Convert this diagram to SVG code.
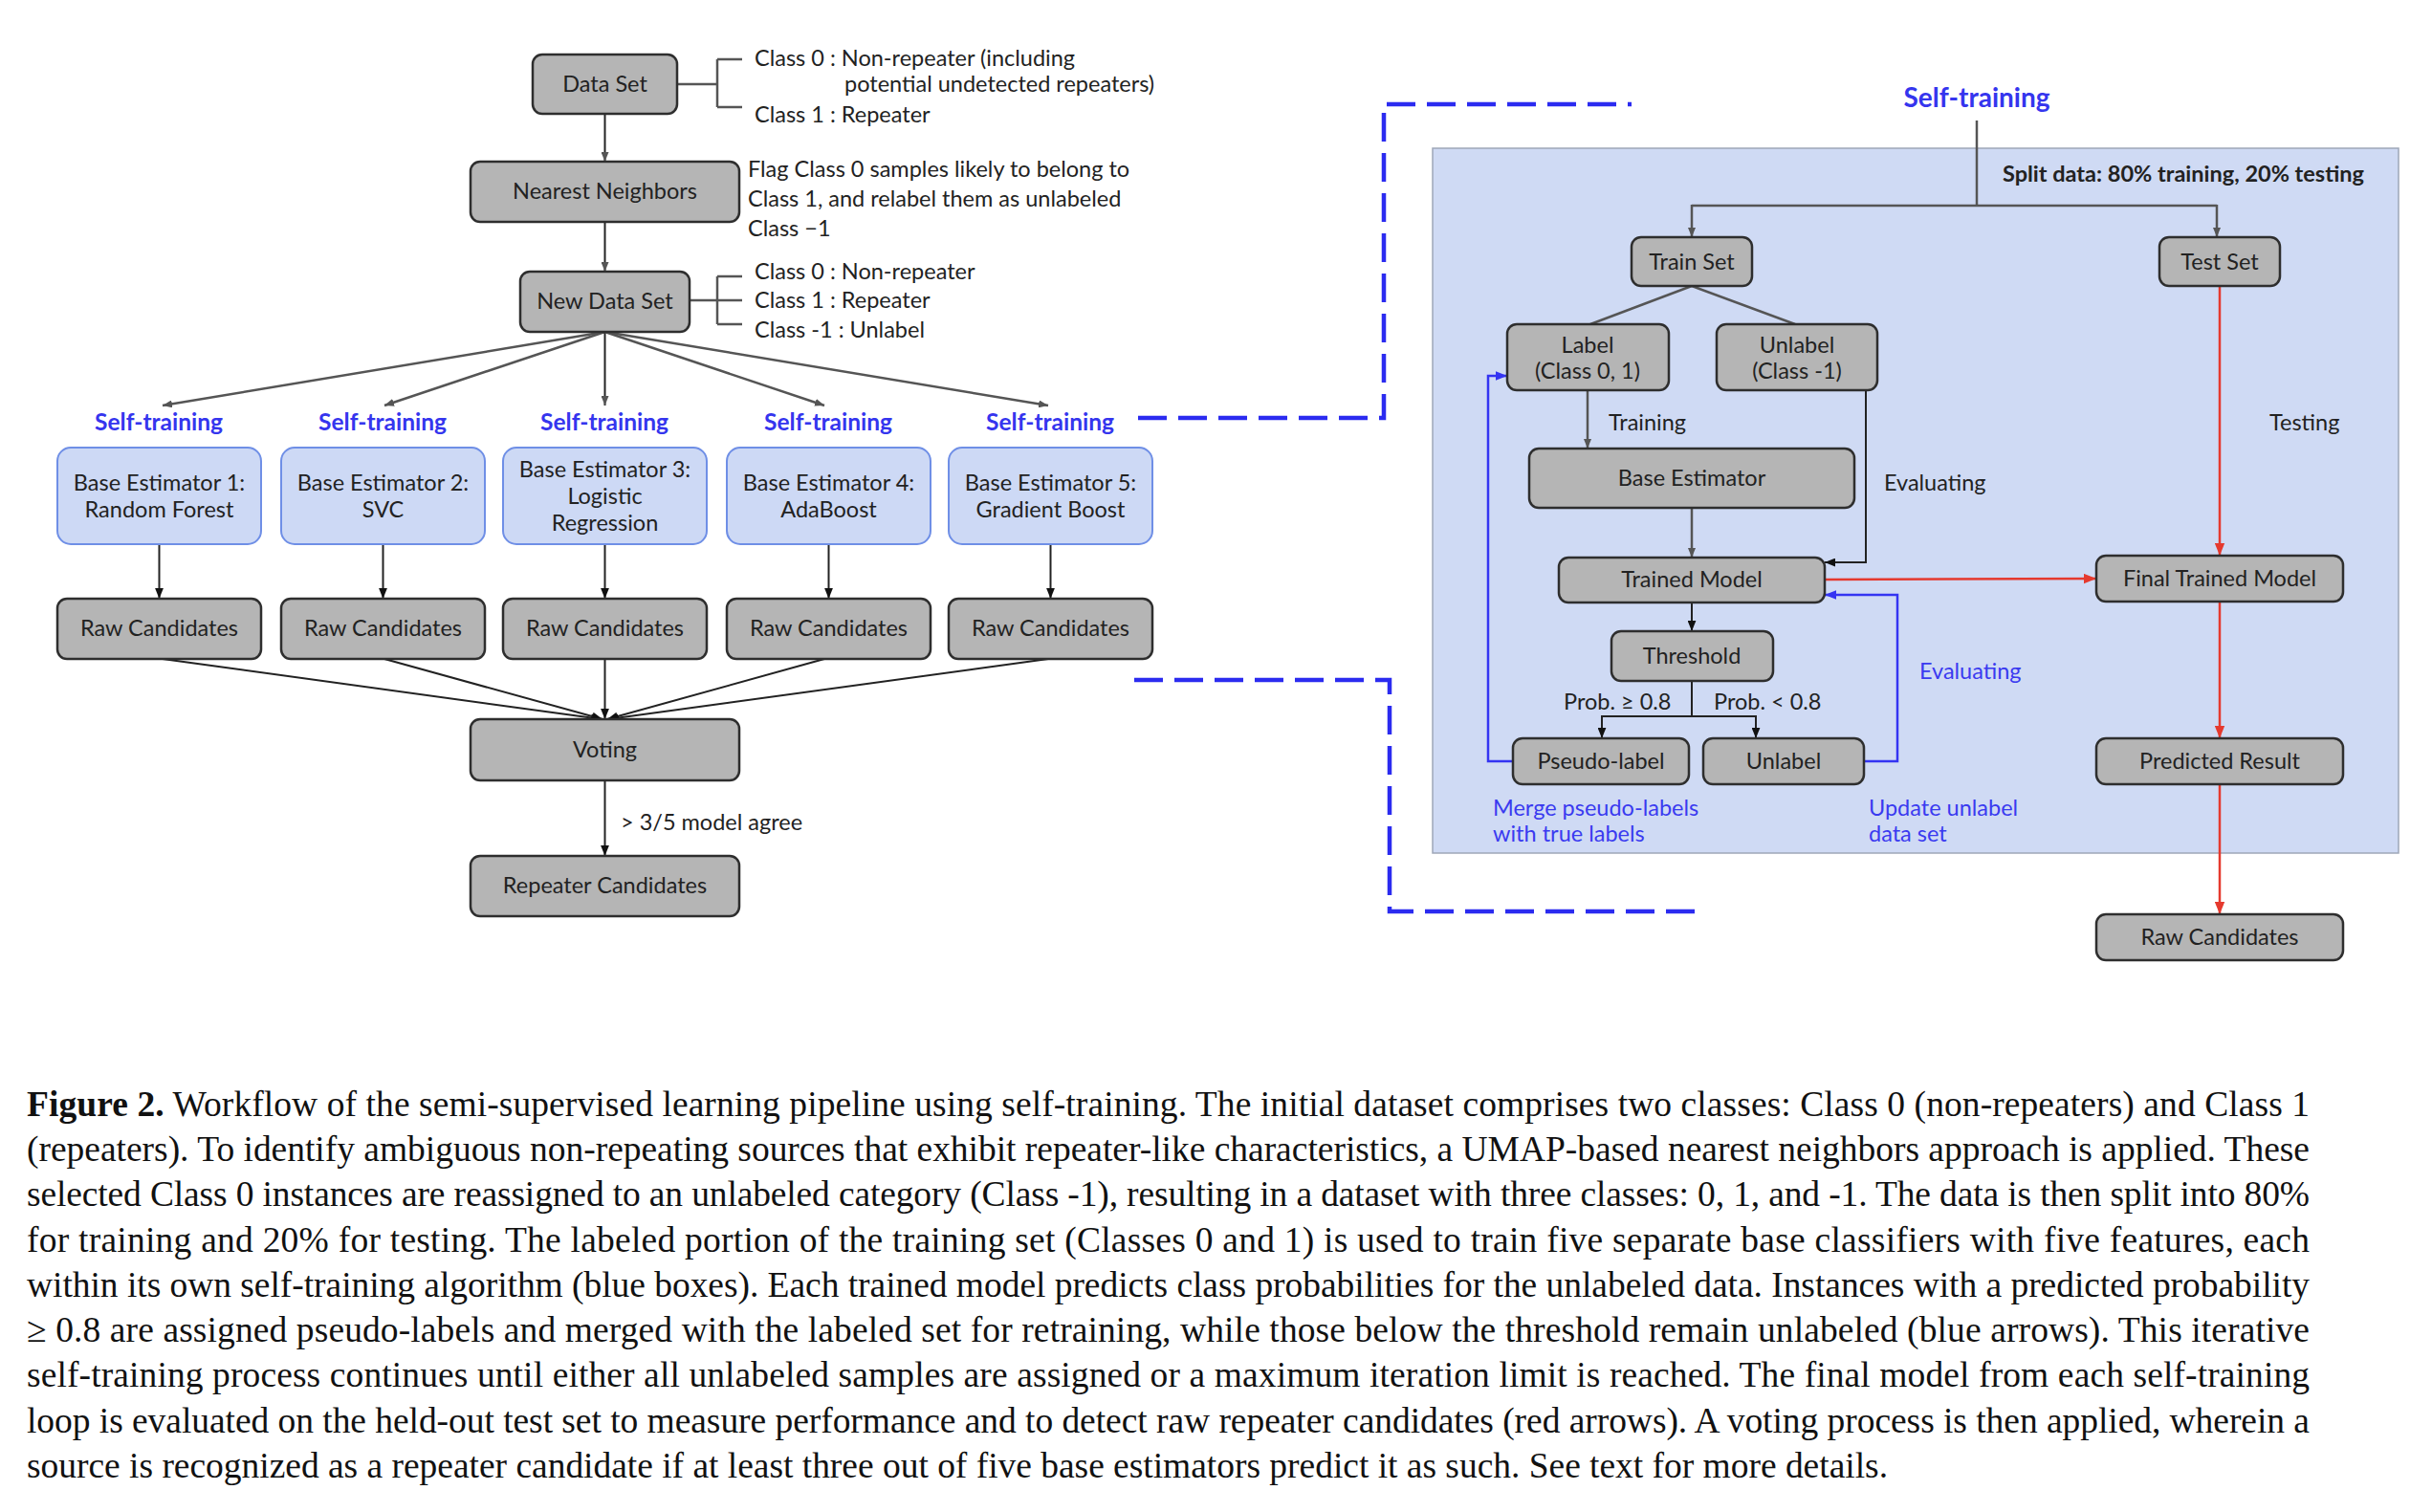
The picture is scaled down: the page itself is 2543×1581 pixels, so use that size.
<svg xmlns="http://www.w3.org/2000/svg" width="2543" height="1581" viewBox="0 0 2543 1581">
<style>
.box{fill:#b5b5b5;stroke:#2e2e2e;stroke-width:2.5}
.be{fill:#cdd9f5;stroke:#6f8fe6;stroke-width:2}
.t{font-family:Lato,"Open Sans","Liberation Sans",sans-serif;font-size:23.5px;fill:#222}
.tc{text-anchor:middle}
.st{font-family:Lato,"Open Sans","Liberation Sans",sans-serif;font-size:24.5px;font-weight:bold;fill:#3535ee;text-anchor:middle}
.bl{font-family:Lato,"Open Sans","Liberation Sans",sans-serif;font-size:23.5px;fill:#3a3af0}
.g{stroke:#555;stroke-width:2.5;fill:none}
.k{stroke:#222;stroke-width:2;fill:none}
.r{stroke:#e5392e;stroke-width:2.5;fill:none}
.b{stroke:#3434f2;stroke-width:2.5;fill:none}
.dash{stroke:#2b2bf0;stroke-width:4.5;fill:none;stroke-dasharray:30 12}
.cap{font-family:"Liberation Serif","Times New Roman",serif;font-size:37.5px;fill:#111}
</style>
<defs>
<marker id="ag" viewBox="0 0 10 8" refX="10" refY="4" markerWidth="10" markerHeight="8" markerUnits="userSpaceOnUse" orient="auto"><path d="M0,0 L10,4 L0,8 z" fill="#555"/></marker>
<marker id="ak" viewBox="0 0 10 8" refX="10" refY="4" markerWidth="11" markerHeight="9" markerUnits="userSpaceOnUse" orient="auto"><path d="M0,0 L10,4 L0,8 z" fill="#111"/></marker>
<marker id="ar" viewBox="0 0 10 8" refX="10" refY="4" markerWidth="13" markerHeight="11" markerUnits="userSpaceOnUse" orient="auto"><path d="M0,0 L10,4 L0,8 z" fill="#e5392e"/></marker>
<marker id="ab" viewBox="0 0 10 8" refX="10" refY="4" markerWidth="12" markerHeight="10" markerUnits="userSpaceOnUse" orient="auto"><path d="M0,0 L10,4 L0,8 z" fill="#3434f2"/></marker>
</defs>
<rect width="2543" height="1581" fill="#fff"/>

<!-- right panel background -->
<rect id="panel" x="1498" y="155" width="1010" height="737" fill="#cfdaf4" stroke="#9ea7b8" stroke-width="1.5"/>

<g id="connectors">
  <!-- left brackets -->
  <path class="g" d="M708,88 H750 M750,62 V112 M750,62 H776 M750,112 H776"/>
  <path class="g" d="M721,314 H750 M750,289 V339 M750,289 H776 M750,314 H776 M750,339 H776"/>
  <line class="k" x1="632.5" y1="119" x2="632.5" y2="169" marker-end="url(#ag)"/>
  <line class="k" x1="632.5" y1="232" x2="632.5" y2="284" marker-end="url(#ag)"/>
  <!-- fan out -->
  <line class="g" x1="632.5" y1="347" x2="170" y2="424" marker-end="url(#ag)"/>
  <line class="g" x1="632.5" y1="347" x2="402" y2="424" marker-end="url(#ag)"/>
  <line class="k" x1="632.5" y1="347" x2="632.5" y2="424" marker-end="url(#ag)"/>
  <line class="g" x1="632.5" y1="347" x2="862" y2="424" marker-end="url(#ag)"/>
  <line class="g" x1="632.5" y1="347" x2="1096" y2="424" marker-end="url(#ag)"/>
  <!-- base -> raw -->
  <line class="k" x1="166.5" y1="569" x2="166.5" y2="626" marker-end="url(#ak)"/>
  <line class="k" x1="400.5" y1="569" x2="400.5" y2="626" marker-end="url(#ak)"/>
  <line class="k" x1="632.5" y1="569" x2="632.5" y2="626" marker-end="url(#ak)"/>
  <line class="k" x1="866.5" y1="569" x2="866.5" y2="626" marker-end="url(#ak)"/>
  <line class="k" x1="1098.5" y1="569" x2="1098.5" y2="626" marker-end="url(#ak)"/>
  <!-- converge -->
  <line class="k" stroke-width="2.5" x1="170" y1="689" x2="629" y2="752" marker-end="url(#ak)"/>
  <line class="k" stroke-width="2.5" x1="402" y1="689" x2="630" y2="752" marker-end="url(#ak)"/>
  <line class="k" x1="632.5" y1="689" x2="632.5" y2="752" marker-end="url(#ak)"/>
  <line class="k" stroke-width="2.5" x1="862" y1="689" x2="635" y2="752" marker-end="url(#ak)"/>
  <line class="k" stroke-width="2.5" x1="1096" y1="689" x2="636" y2="752" marker-end="url(#ak)"/>
  <line class="k" x1="632.5" y1="816" x2="632.5" y2="895" marker-end="url(#ak)"/>
  <!-- dashed links -->
  <path class="dash" d="M1190,437 H1447 V109 H1706"/>
  <path class="dash" d="M1186,711 H1453 V953 H1775"/>
  <!-- right panel -->
  <line class="g" stroke-width="2" x1="2067" y1="126" x2="2067" y2="215"/>
  <path class="g" d="M1769,215 H2318"/>
  <line class="g" x1="1769" y1="214" x2="1769" y2="248" marker-end="url(#ag)"/>
  <line class="g" x1="2318" y1="214" x2="2318" y2="248" marker-end="url(#ag)"/>
  <line class="g" x1="1769" y1="299" x2="1663" y2="339"/>
  <line class="g" x1="1769" y1="299" x2="1877" y2="339"/>
  <line class="g" x1="1660" y1="408" x2="1660" y2="469" marker-end="url(#ag)"/>
  <line class="g" x1="1769" y1="531" x2="1769" y2="583" marker-end="url(#ag)"/>
  <path class="k" stroke-width="2.5" d="M1951,408 V588 H1908" marker-end="url(#ak)"/>
  <line class="r" x1="1908" y1="606" x2="2192" y2="605" marker-end="url(#ar)"/>
  <path class="b" d="M1949,796 H1984 V622 H1908" marker-end="url(#ab)"/>
  <path class="b" d="M1582,796 H1556 V393 H1576" marker-end="url(#ab)"/>
  <line class="k" stroke-width="2.5" x1="1769" y1="630" x2="1769" y2="660" marker-end="url(#ak)"/>
  <path class="k" stroke-width="2.5" d="M1769,712 V749 M1675,749 H1836"/>
  <line class="k" stroke-width="2.5" x1="1675" y1="748" x2="1675" y2="772" marker-end="url(#ak)"/>
  <line class="k" stroke-width="2.5" x1="1836" y1="748" x2="1836" y2="772" marker-end="url(#ak)"/>
  <line class="r" x1="2321" y1="299" x2="2321" y2="581" marker-end="url(#ar)"/>
  <line class="r" x1="2321" y1="629" x2="2321" y2="772" marker-end="url(#ar)"/>
  <line class="r" x1="2321" y1="820" x2="2321" y2="956" marker-end="url(#ar)"/>
</g>

<!-- left column -->
<g id="dataset"><rect class="box" x="557" y="57" width="151" height="62" rx="10"/><text class="t tc" x="632.5" y="96">Data Set</text></g>
<g id="dataset-notes">
  <text class="t" x="789" y="69">Class 0 : Non-repeater (including</text>
  <text class="t" x="883" y="96">potential undetected repeaters)</text>
  <text class="t" x="789" y="128">Class 1 : Repeater</text>
</g>
<g id="nn"><rect class="box" x="492" y="169" width="281" height="63" rx="10"/><text class="t tc" x="632.5" y="208">Nearest Neighbors</text></g>
<g id="nn-notes">
  <text class="t" x="782" y="185">Flag Class 0 samples likely to belong to</text>
  <text class="t" x="782" y="216">Class 1, and relabel them as unlabeled</text>
  <text class="t" x="782" y="247">Class −1</text>
</g>
<g id="newdataset"><rect class="box" x="544" y="284" width="177" height="63" rx="10"/><text class="t tc" x="632.5" y="323">New Data Set</text></g>
<g id="newdataset-notes">
  <text class="t" x="789" y="292">Class 0 : Non-repeater</text>
  <text class="t" x="789" y="322">Class 1 : Repeater</text>
  <text class="t" x="789" y="353">Class -1 : Unlabel</text>
</g>

<g id="st-labels">
  <text class="st" x="166" y="450">Self-training</text>
  <text class="st" x="400" y="450">Self-training</text>
  <text class="st" x="632" y="450">Self-training</text>
  <text class="st" x="866" y="450">Self-training</text>
  <text class="st" x="1098" y="450">Self-training</text>
</g>

<g id="be1"><rect class="be" x="60" y="468" width="213" height="101" rx="14"/><text class="t tc" x="166.5" y="513">Base Estimator 1:</text><text class="t tc" x="166.5" y="541">Random Forest</text></g>
<g id="be2"><rect class="be" x="294" y="468" width="213" height="101" rx="14"/><text class="t tc" x="400.5" y="513">Base Estimator 2:</text><text class="t tc" x="400.5" y="541">SVC</text></g>
<g id="be3"><rect class="be" x="526" y="468" width="213" height="101" rx="14"/><text class="t tc" x="632.5" y="499">Base Estimator 3:</text><text class="t tc" x="632.5" y="527">Logistic</text><text class="t tc" x="632.5" y="555">Regression</text></g>
<g id="be4"><rect class="be" x="760" y="468" width="213" height="101" rx="14"/><text class="t tc" x="866.5" y="513">Base Estimator 4:</text><text class="t tc" x="866.5" y="541">AdaBoost</text></g>
<g id="be5"><rect class="be" x="992" y="468" width="213" height="101" rx="14"/><text class="t tc" x="1098.5" y="513">Base Estimator 5:</text><text class="t tc" x="1098.5" y="541">Gradient Boost</text></g>

<g id="raw1"><rect class="box" x="60" y="626" width="213" height="63" rx="10"/><text class="t tc" x="166.5" y="665">Raw Candidates</text></g>
<g id="raw2"><rect class="box" x="294" y="626" width="213" height="63" rx="10"/><text class="t tc" x="400.5" y="665">Raw Candidates</text></g>
<g id="raw3"><rect class="box" x="526" y="626" width="213" height="63" rx="10"/><text class="t tc" x="632.5" y="665">Raw Candidates</text></g>
<g id="raw4"><rect class="box" x="760" y="626" width="213" height="63" rx="10"/><text class="t tc" x="866.5" y="665">Raw Candidates</text></g>
<g id="raw5"><rect class="box" x="992" y="626" width="213" height="63" rx="10"/><text class="t tc" x="1098.5" y="665">Raw Candidates</text></g>

<g id="voting"><rect class="box" x="492" y="752" width="281" height="64" rx="10"/><text class="t tc" x="632.5" y="792">Voting</text></g>
<text class="t" x="649" y="868">&gt; 3/5 model agree</text>
<g id="repeater"><rect class="box" x="492" y="895" width="281" height="63" rx="10"/><text class="t tc" x="632.5" y="934">Repeater Candidates</text></g>

<!-- right panel nodes -->
<text class="st" x="2067" y="112" style="font-size:28px">Self-training</text>
<text class="t" x="2094" y="190" font-weight="bold">Split data: 80% training, 20% testing</text>
<g id="trainset"><rect class="box" x="1706" y="248" width="126" height="51" rx="10"/><text class="t tc" x="1769" y="282">Train Set</text></g>
<g id="testset"><rect class="box" x="2258" y="248" width="126" height="51" rx="10"/><text class="t tc" x="2321" y="282">Test Set</text></g>
<g id="label"><rect class="box" x="1576" y="339" width="169" height="69" rx="10"/><text class="t tc" x="1660" y="369">Label</text><text class="t tc" x="1660" y="396">(Class 0, 1)</text></g>
<g id="unlabel1"><rect class="box" x="1795" y="339" width="168" height="69" rx="10"/><text class="t tc" x="1879" y="369">Unlabel</text><text class="t tc" x="1879" y="396">(Class -1)</text></g>
<text class="t" x="1682" y="450">Training</text>
<text class="t" x="1970" y="513">Evaluating</text>
<text class="t" x="2373" y="450">Testing</text>
<g id="baseest"><rect class="box" x="1599" y="469" width="340" height="62" rx="10"/><text class="t tc" x="1769" y="508">Base Estimator</text></g>
<g id="trained"><rect class="box" x="1630" y="583" width="278" height="47" rx="10"/><text class="t tc" x="1769" y="614">Trained Model</text></g>
<g id="final"><rect class="box" x="2192" y="581" width="258" height="48" rx="10"/><text class="t tc" x="2321" y="613">Final Trained Model</text></g>
<g id="threshold"><rect class="box" x="1685" y="660" width="169" height="52" rx="10"/><text class="t tc" x="1769" y="694">Threshold</text></g>
<text class="t" x="1635" y="742">Prob. ≥ 0.8</text>
<text class="t" x="1792" y="742">Prob. &lt; 0.8</text>
<text class="bl" x="2007" y="710">Evaluating</text>
<g id="pseudo"><rect class="box" x="1582" y="772" width="184" height="48" rx="10"/><text class="t tc" x="1674" y="804">Pseudo-label</text></g>
<g id="unlabel2"><rect class="box" x="1781" y="772" width="168" height="48" rx="10"/><text class="t tc" x="1865" y="804">Unlabel</text></g>
<g id="predicted"><rect class="box" x="2192" y="772" width="258" height="48" rx="10"/><text class="t tc" x="2321" y="804">Predicted Result</text></g>
<text class="bl" x="1561" y="853">Merge pseudo-labels</text>
<text class="bl" x="1561" y="880">with true labels</text>
<text class="bl" x="1954" y="853">Update unlabel</text>
<text class="bl" x="1954" y="880">data set</text>
<g id="raw-right"><rect class="box" x="2192" y="956" width="258" height="48" rx="10"/><text class="t tc" x="2321" y="988">Raw Candidates</text></g>

<!-- caption -->
<g id="caption">
<text class="cap" x="28" y="1167" textLength="2387" lengthAdjust="spacing"><tspan font-weight="bold">Figure 2.</tspan> Workflow of the semi-supervised learning pipeline using self-training. The initial dataset comprises two classes: Class 0 (non-repeaters) and Class 1</text>
<text class="cap" x="28" y="1214" textLength="2387" lengthAdjust="spacing">(repeaters). To identify ambiguous non-repeating sources that exhibit repeater-like characteristics, a UMAP-based nearest neighbors approach is applied. These</text>
<text class="cap" x="28" y="1261" textLength="2387" lengthAdjust="spacing">selected Class 0 instances are reassigned to an unlabeled category (Class -1), resulting in a dataset with three classes: 0, 1, and -1. The data is then split into 80%</text>
<text class="cap" x="28" y="1309" textLength="2387" lengthAdjust="spacing">for training and 20% for testing. The labeled portion of the training set (Classes 0 and 1) is used to train five separate base classifiers with five features, each</text>
<text class="cap" x="28" y="1356" textLength="2387" lengthAdjust="spacing">within its own self-training algorithm (blue boxes). Each trained model predicts class probabilities for the unlabeled data. Instances with a predicted probability</text>
<text class="cap" x="28" y="1403" textLength="2387" lengthAdjust="spacing">≥ 0.8 are assigned pseudo-labels and merged with the labeled set for retraining, while those below the threshold remain unlabeled (blue arrows). This iterative</text>
<text class="cap" x="28" y="1450" textLength="2387" lengthAdjust="spacing">self-training process continues until either all unlabeled samples are assigned or a maximum iteration limit is reached. The final model from each self-training</text>
<text class="cap" x="28" y="1498" textLength="2387" lengthAdjust="spacing">loop is evaluated on the held-out test set to measure performance and to detect raw repeater candidates (red arrows). A voting process is then applied, wherein a</text>
<text class="cap" x="28" y="1545" textLength="1946" lengthAdjust="spacing">source is recognized as a repeater candidate if at least three out of five base estimators predict it as such. See text for more details.</text>
</g>
</svg>
